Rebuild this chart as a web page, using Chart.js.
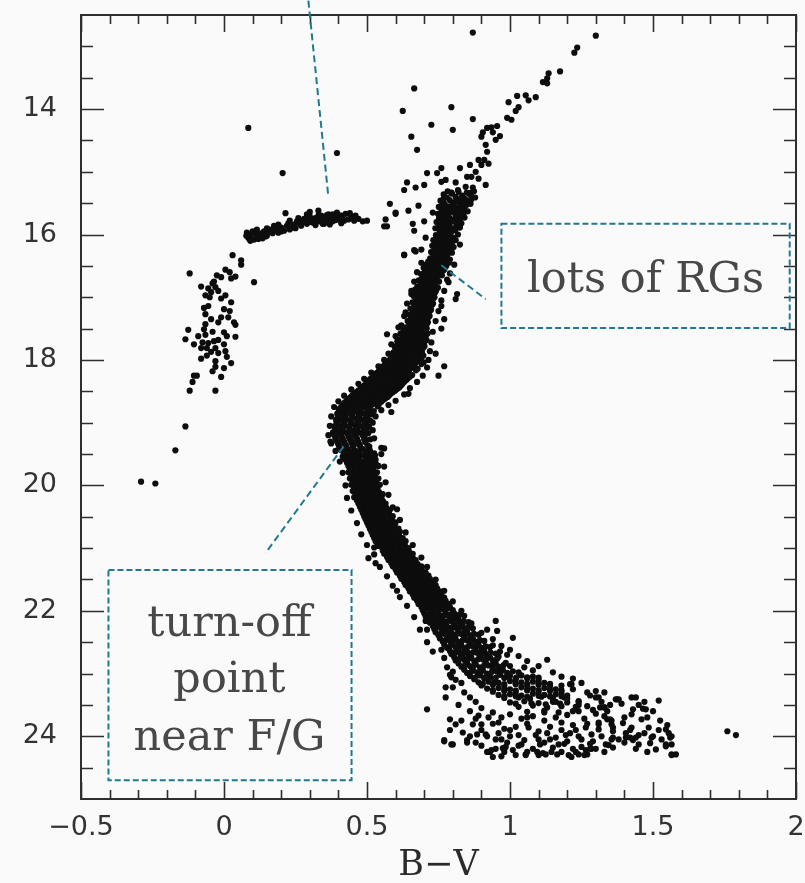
<!DOCTYPE html>
<html lang="en">
<head>
  <meta charset="UTF-8" />
  <title>Globular cluster colour-magnitude diagram</title>
  <style>
    body {
      margin: 0;
      background: #fafafa;
    }
    #cmd {
      display: block;
    }
  </style>
  <script src="https://cdn.jsdelivr.net/npm/chart.js"></script>
</head>
<body>
  <canvas id="cmd" width="805" height="883"></canvas>

  <script>
    // every star is [B-V, V]

    // blue end of the horizontal branch (the near-vertical plume) + a few stragglers
    const blueBranch = [
      [-0.12,16.62],[0.03,16.33],[0.06,16.41],[0.06,16.48],[0.005,16.56],[-0.025,16.65],[-0.01,16.68],
      [-0.035,16.75],[0.04,16.67],[0.025,16.7],[-0.08,16.83],[-0.055,16.86],[-0.03,16.84],[-0.02,16.9],
      [-0.045,16.92],[-0.065,16.97],[0.005,16.97],[-0.01,17.02],[0.025,17.08],[-0.055,17.14],[-0.07,17.17],
      [0.0,17.19],[-0.065,17.27],[-0.01,17.32],[0.015,17.32],[-0.02,17.4],[0.035,17.4],[0.04,17.44],
      [-0.065,17.43],[-0.07,17.51],[-0.125,17.52],[0.0,17.56],[-0.09,17.62],[-0.065,17.6],[0.01,17.62],
      [0.04,17.63],[-0.135,17.67],[-0.035,17.7],[-0.055,17.73],[-0.105,17.75],[-0.08,17.81],[-0.06,17.81],
      [-0.03,17.81],[0.0,17.75],[-0.045,17.87],[-0.02,17.89],[0.005,17.86],[-0.08,17.98],[-0.03,18.02],
      [0.025,18.05],[-0.03,18.11],[0.0,18.13],[-0.105,18.25],[-0.095,18.25],[-0.01,18.27],[-0.11,18.35],
      [-0.12,18.49],[-0.03,18.49],[-0.135,19.06],[-0.17,19.44],[-0.29,19.94],[-0.24,19.97],[0.105,16.76],
      [-0.04,16.78],[-0.05,17.0],[0.02,17.22],[-0.04,17.55],[-0.02,17.68],[-0.06,17.93],[0.01,17.95],
      [-0.04,18.18],[0.02,16.6],[-0.045,17.35],[-0.075,17.72]
    ];

    // horizontal branch proper
    const horizontalBranch = [
      [0.08,15.97],[0.085,16.05],[0.095,16.0],[0.105,16.08],[0.11,15.97],[0.115,16.03],[0.13,15.98],
      [0.135,16.06],[0.14,15.95],[0.15,16.02],[0.16,15.92],[0.17,15.98],[0.18,15.9],[0.19,15.97],
      [0.2,15.89],[0.21,15.94],[0.22,15.86],[0.23,15.92],[0.245,15.84],[0.25,15.9],[0.26,15.79],
      [0.27,15.86],[0.28,15.75],[0.29,15.83],[0.295,15.78],[0.3,15.71],[0.31,15.81],[0.315,15.75],
      [0.325,15.79],[0.33,15.7],[0.34,15.76],[0.345,15.83],[0.35,15.73],[0.36,15.78],[0.365,15.68],
      [0.37,15.75],[0.38,15.79],[0.385,15.71],[0.395,15.65],[0.4,15.76],[0.41,15.7],[0.415,15.75],
      [0.425,15.67],[0.435,15.76],[0.445,15.71],[0.455,15.78],[0.47,15.75],[0.485,15.79],[0.5,15.78],
      [0.09,16.08],[0.1,15.95],[0.12,16.07],[0.145,16.03],[0.17,15.94],[0.2,15.95],[0.24,15.89],
      [0.275,15.8],[0.3,15.8],[0.32,15.74],[0.34,15.7],[0.355,15.77],[0.37,15.72],[0.39,15.77],
      [0.405,15.73],[0.42,15.78],[0.36,15.69],[0.3,15.64],[0.255,15.79],[0.225,15.82],[0.175,15.86],
      [0.215,15.66],[0.33,15.62],[0.35,15.83],[0.38,15.68],[0.078,16.02],[0.092,16.1],[0.125,16.02],
      [0.155,15.96],[0.185,15.93],[0.265,15.83],[0.335,15.79],[0.375,15.78],[0.4,15.69],
      [0.29,15.68],[0.32,15.85],[0.37,15.84],[0.41,15.82],[0.44,15.66],[0.46,15.7],[0.26,15.74],
      [0.23,15.78],[0.19,15.84],[0.15,15.9],[0.115,15.92]
    ];

    // bright giants above V = 15.3
    const upperGiants = [
      [0.87,12.78],[1.3,12.83],[1.235,13.02],[1.225,13.1],[1.175,13.4],[1.135,13.43],[1.13,13.51],
      [1.115,13.57],[1.13,13.59],[1.09,13.81],[1.055,13.78],[1.025,13.79],[1.065,13.86],[0.995,13.89],
      [1.03,13.97],[1.02,14.03],[0.99,14.14],[1.005,14.17],[0.955,14.27],[0.935,14.29],[0.92,14.3],
      [0.905,14.37],[0.94,14.37],[0.965,14.43],[0.9,14.44],[0.95,14.49],[0.915,14.57],[0.92,14.68],
      [0.89,14.81],[0.91,14.81],[0.925,14.87],[0.9,14.89],[0.86,14.89],[0.825,14.94],[0.88,15.0],
      [0.865,15.08],[0.85,15.08],[0.89,15.11],[0.915,15.21],[0.76,14.94],[0.745,15.02],[0.71,15.02],
      [0.76,15.16],[0.775,15.13],[0.81,15.17],[0.845,15.24],[0.87,15.25],[0.82,15.32],[0.795,15.33],
      [0.865,15.33],
      [0.665,13.67],[0.625,14.03],[0.795,13.97],[0.87,14.16],[0.725,14.25],[0.8,14.33],[0.655,14.44],
      [0.675,14.65],[0.64,15.17],[0.63,15.29],[0.67,15.25],[0.7,15.21],[0.58,15.51],[0.6,15.67],
      [0.645,15.62],[0.68,15.54],[0.73,15.65],[0.66,15.83],[0.665,15.94],[0.7,15.79],[0.705,16.05],
      [0.665,16.25],[0.69,16.24],[0.63,16.33],[0.825,15.79],[0.835,15.65],[0.825,16.16],
      [0.565,15.76],[0.57,15.87],[0.6,15.65],[0.56,15.87]
    ];

    // red giant branch and subgiants down to the turn-off
    const giantBranch = [
      [0.782,15.31],[0.818,15.29],[0.849,15.33],[0.874,15.31],[0.768,15.36],[0.797,15.35],[0.833,15.38],[0.861,15.36],
      [0.779,15.41],[0.81,15.4],[0.842,15.43],[0.878,15.41],[0.757,15.46],[0.789,15.45],[0.821,15.48],[0.853,15.46],
      [0.771,15.51],[0.801,15.5],[0.829,15.53],[0.862,15.51],[0.751,15.56],[0.783,15.55],[0.812,15.57],[0.843,15.55],
      [0.764,15.61],[0.796,15.62],[0.826,15.6],[0.852,15.63],[0.772,15.66],[0.803,15.65],[0.821,15.68],[0.748,15.67],
      [0.753,15.71],[0.786,15.72],[0.811,15.7],[0.841,15.73],[0.764,15.76],[0.792,15.75],[0.822,15.77],
      [0.743,15.8],[0.776,15.81],[0.801,15.79],[0.83,15.82],[0.758,15.85],[0.789,15.86],[0.816,15.84],
      [0.739,15.9],[0.769,15.89],[0.798,15.91],[0.825,15.89],[0.754,15.94],[0.781,15.95],[0.809,15.93],
      [0.762,15.99],[0.791,15.98],[0.818,16.0],[0.741,16.01],[0.748,16.04],[0.772,16.03],[0.801,16.05],
      [0.732,16.09],[0.758,16.08],[0.784,16.1],[0.81,16.09],[0.745,16.14],[0.771,16.15],[0.797,16.13],
      [0.728,16.18],[0.752,16.19],[0.779,16.18],[0.803,16.2],[0.737,16.23],[0.762,16.24],[0.788,16.22],
      [0.724,16.28],[0.749,16.29],[0.773,16.27],[0.797,16.29],[0.733,16.33],[0.757,16.34],[0.781,16.32],
      [0.721,16.38],[0.744,16.39],[0.768,16.37],[0.79,16.4],
      [0.714,16.43],[0.739,16.44],[0.763,16.42],[0.786,16.45],[0.706,16.48],[0.731,16.49],[0.752,16.47],[0.777,16.5],
      [0.698,16.53],[0.722,16.54],[0.747,16.52],[0.771,16.55],[0.709,16.58],[0.733,16.59],[0.757,16.57],
      [0.689,16.63],[0.713,16.64],[0.736,16.62],[0.762,16.65],[0.699,16.68],[0.722,16.69],[0.746,16.67],
      [0.681,16.73],[0.704,16.74],[0.728,16.72],[0.752,16.75],[0.692,16.78],[0.716,16.79],[0.739,16.77],
      [0.676,16.83],[0.699,16.84],[0.723,16.82],[0.748,16.85],[0.668,16.88],[0.691,16.89],[0.714,16.87],[0.741,16.9],
      [0.681,16.93],[0.703,16.94],[0.727,16.92],[0.663,16.98],[0.687,16.99],[0.711,16.97],[0.736,17.0],
      [0.674,17.03],[0.697,17.04],[0.721,17.02],[0.659,17.08],[0.683,17.09],[0.707,17.07],[0.731,17.1],
      [0.668,17.13],[0.692,17.14],[0.716,17.12],[0.652,17.18],[0.677,17.19],[0.702,17.17],[0.724,17.2],
      [0.663,17.23],[0.687,17.24],[0.711,17.22],[0.648,17.28],[0.672,17.29],[0.697,17.27],[0.719,17.3],
      [0.657,17.33],[0.682,17.34],[0.706,17.32],[0.642,17.38],[0.667,17.39],[0.691,17.37],[0.713,17.4],
      [0.653,17.43],[0.677,17.44],[0.701,17.42],[0.636,17.48],[0.661,17.49],[0.686,17.47],[0.709,17.5],
      [0.627,17.53],[0.651,17.54],[0.676,17.52],[0.699,17.55],[0.617,17.58],[0.642,17.59],[0.668,17.57],[0.692,17.6],[0.712,17.58],
      [0.628,17.63],[0.653,17.64],[0.678,17.62],[0.703,17.65],[0.611,17.68],[0.636,17.69],[0.661,17.67],[0.686,17.7],[0.708,17.68],
      [0.619,17.73],[0.644,17.74],[0.669,17.72],[0.693,17.75],[0.602,17.78],[0.627,17.79],[0.652,17.77],[0.677,17.8],[0.701,17.78],
      [0.609,17.83],[0.634,17.84],[0.658,17.82],[0.683,17.85],[0.593,17.88],[0.618,17.89],[0.643,17.87],[0.667,17.9],[0.692,17.88],
      [0.598,17.93],[0.623,17.94],[0.648,17.92],[0.673,17.95],[0.697,17.93],[0.583,17.98],[0.607,17.99],[0.632,17.97],[0.657,18.0],[0.681,17.98],
      [0.571,18.03],[0.596,18.04],[0.622,18.02],[0.647,18.05],[0.672,18.03],[0.698,18.04],
      [0.562,18.08],[0.587,18.09],[0.612,18.07],[0.638,18.1],[0.663,18.08],
      [0.551,18.13],[0.577,18.14],[0.602,18.12],[0.628,18.15],[0.653,18.13],[0.677,18.14],
      [0.541,18.18],[0.566,18.19],[0.592,18.17],[0.617,18.2],[0.643,18.18],
      [0.529,18.23],[0.555,18.24],[0.581,18.22],[0.607,18.25],[0.633,18.23],[0.658,18.24],
      [0.517,18.28],[0.543,18.29],[0.568,18.27],[0.594,18.3],[0.619,18.28],[0.643,18.29],
      [0.506,18.33],[0.532,18.34],[0.557,18.32],[0.583,18.35],[0.608,18.33],[0.632,18.34],
      [0.497,18.38],[0.521,18.39],[0.547,18.37],[0.572,18.4],[0.598,18.38],[0.622,18.39],
      [0.486,18.43],[0.511,18.44],[0.537,18.42],[0.562,18.45],[0.588,18.43],[0.613,18.44],
      [0.472,18.48],[0.497,18.49],[0.523,18.47],[0.548,18.5],[0.573,18.48],[0.598,18.49],
      [0.458,18.53],[0.483,18.54],[0.508,18.52],[0.533,18.55],[0.558,18.53],[0.583,18.54],
      [0.446,18.58],[0.471,18.59],[0.496,18.57],[0.522,18.6],[0.547,18.58],[0.572,18.59],
      [0.433,18.63],[0.458,18.64],[0.483,18.62],[0.508,18.65],[0.533,18.63],[0.556,18.64],
      [0.422,18.68],[0.447,18.69],[0.472,18.67],[0.497,18.7],[0.522,18.68],
      [0.413,18.73],[0.437,18.74],[0.462,18.72],[0.487,18.75],[0.512,18.73],[0.537,18.74],
      [0.404,18.78],[0.428,18.79],[0.453,18.77],[0.478,18.8],[0.503,18.78],
      [0.407,18.83],[0.432,18.84],[0.457,18.82],[0.481,18.85],[0.507,18.83],
      [0.398,18.88],[0.422,18.89],[0.447,18.87],[0.472,18.9],[0.497,18.88],
      [0.403,18.93],[0.427,18.94],[0.452,18.92],[0.477,18.95],[0.502,18.93],
      [0.393,18.98],[0.417,18.99],[0.442,18.97],[0.467,19.0],[0.492,18.98],
      [0.398,19.03],[0.423,19.04],[0.448,19.02],[0.473,19.05],[0.498,19.03],
      [0.388,19.08],[0.412,19.09],[0.437,19.07],[0.462,19.1],[0.487,19.08],
      [0.394,19.13],[0.418,19.14],[0.443,19.12],[0.468,19.15],[0.497,19.13],
      [0.384,19.18],[0.408,19.19],[0.433,19.17],[0.458,19.2],[0.483,19.18],
      [0.389,19.23],[0.413,19.24],[0.438,19.22],[0.463,19.25],[0.492,19.23],
      [0.394,19.28],[0.418,19.29],[0.443,19.27],[0.468,19.3],[0.497,19.28],
      [0.399,19.33],[0.423,19.34],[0.448,19.32],[0.473,19.35],
      [0.403,19.38],[0.428,19.39],[0.453,19.37],[0.478,19.4],[0.508,19.38],
      // ragged edges of the branch
      [0.69,16.45],[0.675,16.6],[0.665,16.75],[0.655,16.95],[0.64,17.1],[0.63,17.3],[0.62,17.45],
      [0.6,17.62],[0.585,17.75],[0.575,17.9],[0.56,18.0],[0.54,18.1],[0.515,18.2],[0.49,18.3],
      [0.47,18.38],[0.445,18.47],[0.42,18.57],[0.4,18.66],[0.385,18.75],[0.375,18.9],[0.37,19.05],
      [0.365,19.2],[0.372,19.3],
      [0.805,16.48],[0.79,16.62],[0.78,16.72],[0.77,16.9],[0.76,17.05],[0.75,17.22],[0.74,17.38],
      [0.73,17.55],[0.725,17.72],[0.72,17.86],[0.715,18.0],[0.71,18.12],[0.695,18.25],[0.675,18.35],
      [0.65,18.45],[0.63,18.55],[0.6,18.65],[0.575,18.72],[0.55,18.8],[0.53,18.9],[0.52,19.0],
      [0.52,19.12],[0.525,19.25]
    ];

    // the crowded core of the giant branch, between the rows above
    const giantBranchCore = [
      [0.795,15.335],[0.856,15.345],[0.768,15.43],[0.829,15.425],[0.864,15.445],[0.806,15.485],[0.838,15.47],
      [0.763,15.535],[0.797,15.54],[0.848,15.525],[0.779,15.585],[0.81,15.6],[0.838,15.59],
      [0.76,15.64],[0.787,15.635],[0.838,15.655],[0.77,15.69],[0.826,15.71],[0.752,15.745],[0.779,15.735],[0.808,15.76],
      [0.762,15.825],[0.787,15.815],[0.816,15.805],[0.752,15.87],[0.784,15.875],[0.812,15.865],[0.768,15.96],[0.796,15.95],
      [0.756,16.02],[0.785,16.025],[0.744,16.065],[0.771,16.085],[0.795,16.07],[0.758,16.125],[0.784,16.135],
      [0.739,16.165],[0.765,16.17],[0.791,16.175],[0.75,16.215],[0.774,16.205],[0.736,16.265],[0.761,16.255],[0.786,16.26],
      [0.745,16.31],[0.77,16.305],[0.733,16.36],[0.756,16.365],[0.779,16.355],[0.728,16.41],[0.753,16.415],[0.776,16.405],
      [0.72,16.465],[0.744,16.455],[0.767,16.47],[0.711,16.515],[0.737,16.505],[0.76,16.52],[0.72,16.565],[0.744,16.555],[0.768,16.57],
      [0.701,16.605],[0.724,16.615],[0.748,16.6],[0.71,16.655],[0.734,16.66],[0.757,16.645],[0.692,16.705],[0.715,16.71],[0.739,16.695],
      [0.703,16.755],[0.727,16.76],[0.75,16.745],[0.687,16.805],[0.711,16.81],[0.735,16.8],[0.68,16.855],[0.706,16.86],[0.731,16.85],
      [0.692,16.905],[0.716,16.915],[0.738,16.925],[0.674,16.955],[0.699,16.96],[0.722,16.965],[0.686,17.005],[0.71,17.015],[0.731,17.025],
      [0.67,17.055],[0.694,17.06],[0.717,17.065],[0.68,17.105],[0.704,17.115],[0.727,17.125],[0.664,17.155],[0.688,17.16],[0.711,17.165],
      [0.674,17.205],[0.698,17.215],[0.719,17.225],[0.659,17.255],[0.683,17.26],[0.707,17.265],[0.668,17.305],[0.693,17.315],[0.714,17.325],
      [0.653,17.355],[0.678,17.36],[0.701,17.365],[0.664,17.405],[0.688,17.415],[0.709,17.425],[0.647,17.455],[0.671,17.46],[0.695,17.465],
      [0.643,17.505],[0.669,17.515],[0.692,17.52],[0.632,17.555],[0.662,17.56],[0.688,17.565],
      [0.63,17.605],[0.656,17.61],[0.683,17.615],[0.707,17.6],[0.622,17.655],[0.646,17.66],[0.671,17.645],[0.696,17.655],
      [0.606,17.705],[0.631,17.715],[0.655,17.72],[0.68,17.71],[0.702,17.705],[0.612,17.755],[0.637,17.76],[0.661,17.765],[0.686,17.755],
      [0.598,17.805],[0.622,17.81],[0.646,17.815],[0.671,17.805],[0.696,17.81],[0.603,17.855],[0.628,17.86],[0.652,17.865],[0.677,17.855],
      [0.589,17.905],[0.612,17.91],[0.638,17.915],[0.662,17.905],[0.686,17.91],[0.592,17.955],[0.617,17.96],[0.642,17.965],[0.667,17.955],[0.69,17.96],
      [0.578,18.005],[0.603,18.01],[0.628,18.015],[0.652,18.005],[0.677,18.01],
      [0.567,18.055],[0.592,18.06],[0.617,18.065],[0.643,18.055],[0.668,18.06],[0.69,18.065],
      [0.556,18.105],[0.582,18.11],[0.607,18.115],[0.633,18.105],[0.658,18.11],
      [0.545,18.155],[0.571,18.16],[0.597,18.165],[0.622,18.155],[0.648,18.16],[0.671,18.165],
      [0.535,18.205],[0.561,18.21],[0.586,18.215],[0.612,18.205],[0.638,18.21],
      [0.523,18.255],[0.549,18.26],[0.575,18.265],[0.6,18.255],[0.626,18.26],[0.651,18.265],
      [0.511,18.305],[0.537,18.31],[0.562,18.315],[0.588,18.305],[0.613,18.31],[0.638,18.315],
      [0.501,18.355],[0.527,18.36],[0.552,18.365],[0.578,18.355],[0.603,18.36],[0.627,18.365],
      [0.491,18.405],[0.516,18.41],[0.542,18.415],[0.567,18.405],[0.593,18.41],[0.617,18.415],
      [0.479,18.455],[0.504,18.46],[0.53,18.465],[0.555,18.455],[0.581,18.46],[0.605,18.465],
      [0.465,18.505],[0.49,18.51],[0.516,18.515],[0.541,18.505],[0.566,18.51],[0.59,18.515],
      [0.452,18.555],[0.477,18.56],[0.502,18.565],[0.527,18.555],[0.552,18.56],[0.577,18.565],
      [0.44,18.605],[0.465,18.61],[0.49,18.615],[0.515,18.605],[0.54,18.61],[0.564,18.615],
      [0.428,18.655],[0.453,18.66],[0.478,18.665],[0.503,18.655],[0.528,18.66],[0.55,18.665],
      [0.418,18.705],[0.443,18.71],[0.468,18.715],[0.493,18.705],[0.518,18.71],[0.541,18.715],
      [0.409,18.755],[0.433,18.76],[0.458,18.765],[0.483,18.755],[0.508,18.76],
      [0.402,18.805],[0.427,18.81],[0.451,18.815],[0.476,18.805],[0.501,18.81],[0.524,18.815],
      [0.396,18.855],[0.42,18.86],[0.445,18.865],[0.47,18.855],[0.494,18.86],[0.516,18.865],
      [0.401,18.905],[0.425,18.91],[0.449,18.915],[0.474,18.905],[0.499,18.91],
      [0.392,18.955],[0.416,18.96],[0.44,18.965],[0.465,18.955],[0.49,18.96],[0.511,18.965],
      [0.396,19.005],[0.42,19.01],[0.445,19.015],[0.47,19.005],[0.494,19.01],
      [0.387,19.055],[0.41,19.06],[0.435,19.065],[0.46,19.055],[0.485,19.06],[0.507,19.065],
      [0.391,19.105],[0.415,19.11],[0.44,19.115],[0.465,19.105],[0.49,19.11],
      [0.381,19.155],[0.404,19.16],[0.429,19.165],[0.454,19.155],[0.479,19.16],[0.505,19.165],
      [0.386,19.205],[0.41,19.21],[0.435,19.215],[0.46,19.205],[0.486,19.21],
      [0.391,19.255],[0.415,19.26],[0.44,19.265],[0.465,19.255],[0.49,19.26],[0.512,19.265],
      [0.396,19.305],[0.42,19.31],[0.445,19.315],[0.47,19.305],[0.494,19.31],
      [0.401,19.355],[0.426,19.36],[0.45,19.365],[0.475,19.355],[0.502,19.36]
    ];

    // main sequence from the turn-off down to V = 22
    const mainSequence = [
      [0.41,19.44],[0.435,19.43],[0.46,19.45],[0.485,19.42],[0.51,19.44],
      [0.42,19.49],[0.445,19.48],[0.47,19.5],[0.495,19.47],[0.525,19.49],
      [0.415,19.54],[0.44,19.53],[0.465,19.55],[0.49,19.52],[0.515,19.54],
      [0.425,19.59],[0.45,19.58],[0.475,19.6],[0.5,19.57],[0.53,19.59],
      [0.43,19.64],[0.455,19.63],[0.48,19.65],[0.505,19.62],
      [0.435,19.69],[0.46,19.68],[0.485,19.7],[0.51,19.67],[0.54,19.69],
      [0.44,19.74],[0.465,19.73],[0.49,19.75],[0.515,19.72],
      [0.435,19.79],[0.46,19.78],[0.485,19.8],[0.51,19.77],[0.535,19.79],
      [0.445,19.84],[0.47,19.83],[0.495,19.85],[0.52,19.82],
      [0.44,19.89],[0.465,19.88],[0.49,19.9],[0.515,19.87],[0.54,19.89],
      [0.45,19.94],[0.475,19.93],[0.5,19.95],[0.525,19.92],
      [0.445,19.99],[0.47,19.98],[0.495,20.0],[0.52,19.97],[0.545,19.99],
      [0.455,20.04],[0.48,20.03],[0.505,20.05],[0.53,20.02],
      [0.45,20.09],[0.475,20.08],[0.5,20.1],[0.525,20.07],
      [0.46,20.14],[0.485,20.13],[0.51,20.15],[0.535,20.12],[0.555,20.14],
      [0.455,20.19],[0.48,20.18],[0.505,20.2],[0.53,20.17],
      [0.465,20.24],[0.49,20.23],[0.515,20.25],[0.54,20.22],
      [0.47,20.29],[0.495,20.28],[0.52,20.3],[0.545,20.27],[0.565,20.29],
      [0.475,20.34],[0.5,20.33],[0.525,20.35],[0.55,20.32],
      [0.48,20.39],[0.505,20.38],[0.53,20.4],[0.555,20.37],[0.58,20.39],
      [0.485,20.44],[0.51,20.43],[0.535,20.45],[0.56,20.42],
      [0.49,20.49],[0.515,20.48],[0.54,20.5],[0.565,20.47],[0.59,20.49],
      [0.495,20.54],[0.52,20.53],[0.545,20.55],[0.57,20.52],
      [0.5,20.59],[0.525,20.58],[0.55,20.6],[0.575,20.57],[0.6,20.59],
      [0.505,20.64],[0.53,20.63],[0.555,20.65],[0.58,20.62],
      [0.51,20.69],[0.535,20.68],[0.56,20.7],[0.585,20.67],[0.61,20.69],
      [0.515,20.74],[0.54,20.73],[0.565,20.75],[0.59,20.72],[0.615,20.74],
      [0.52,20.79],[0.545,20.78],[0.57,20.8],[0.595,20.77],
      [0.525,20.84],[0.55,20.83],[0.575,20.85],[0.6,20.82],[0.625,20.84],
      [0.53,20.89],[0.555,20.88],[0.58,20.9],[0.605,20.87],[0.635,20.89],
      [0.54,20.94],[0.565,20.93],[0.59,20.95],[0.615,20.92],
      [0.525,20.99],[0.55,20.98],[0.575,21.0],[0.6,20.97],[0.625,20.99],[0.645,21.0],
      [0.555,21.04],[0.58,21.03],[0.605,21.05],[0.63,21.02],
      [0.56,21.09],[0.585,21.08],[0.61,21.1],[0.635,21.07],[0.66,21.09],
      [0.57,21.14],[0.595,21.13],[0.62,21.15],[0.645,21.12],
      [0.575,21.19],[0.6,21.18],[0.625,21.2],[0.65,21.17],[0.67,21.19],
      [0.585,21.24],[0.61,21.23],[0.635,21.25],[0.66,21.22],
      [0.59,21.29],[0.615,21.28],[0.64,21.3],[0.665,21.27],[0.69,21.29],
      [0.6,21.34],[0.625,21.33],[0.65,21.35],[0.675,21.32],
      [0.605,21.39],[0.63,21.38],[0.655,21.4],[0.68,21.37],[0.705,21.39],
      [0.615,21.44],[0.64,21.43],[0.665,21.45],[0.69,21.42],[0.715,21.44],
      [0.62,21.49],[0.645,21.48],[0.67,21.5],[0.695,21.47],[0.72,21.49],
      [0.63,21.54],[0.655,21.53],[0.68,21.55],[0.705,21.52],[0.73,21.54],
      [0.635,21.59],[0.66,21.58],[0.685,21.6],[0.71,21.57],[0.74,21.59],
      [0.645,21.64],[0.67,21.63],[0.695,21.65],[0.72,21.62],[0.745,21.64],
      [0.65,21.69],[0.675,21.68],[0.7,21.7],[0.725,21.67],[0.755,21.69],
      [0.66,21.74],[0.685,21.73],[0.71,21.75],[0.735,21.72],[0.76,21.74],
      [0.665,21.79],[0.69,21.78],[0.715,21.8],[0.74,21.77],[0.77,21.79],
      [0.675,21.84],[0.7,21.83],[0.725,21.85],[0.75,21.82],[0.775,21.84],
      [0.68,21.89],[0.705,21.88],[0.73,21.9],[0.755,21.87],[0.785,21.89],
      [0.69,21.94],[0.715,21.93],[0.74,21.95],[0.765,21.92],[0.79,21.94],
      [0.695,21.99],[0.72,21.98],[0.745,22.0],[0.77,21.97],[0.8,21.99],
      // ragged edges of the sequence
      [0.39,19.45],[0.405,19.62],[0.415,19.8],[0.425,20.0],[0.43,20.2],[0.445,20.4],[0.465,20.6],
      [0.48,20.78],[0.5,20.95],[0.525,21.1],[0.545,21.3],[0.57,21.45],[0.59,21.6],[0.615,21.78],
      [0.64,21.92],[0.665,22.1],[0.685,22.3],[0.71,22.5],[0.73,22.65],
      [0.55,19.5],[0.56,19.7],[0.565,19.95],[0.575,20.15],[0.59,20.35],[0.615,20.55],[0.635,20.75],
      [0.66,20.95],[0.69,21.15],[0.71,21.3],[0.74,21.5],[0.77,21.68],[0.8,21.85],[0.83,22.0],
      [0.865,22.2],[0.9,22.35],[0.94,22.55],[0.965,22.65]
    ];

    // the crowded core of the upper main sequence
    const mainSequenceCore = [
      [0.422,19.465],[0.447,19.46],[0.472,19.47],[0.498,19.455],[0.428,19.515],[0.453,19.51],[0.478,19.52],[0.503,19.505],[0.528,19.52],
      [0.421,19.565],[0.446,19.56],[0.471,19.57],[0.496,19.555],[0.52,19.565],[0.437,19.615],[0.462,19.61],[0.487,19.62],[0.512,19.605],
      [0.44,19.665],[0.466,19.66],[0.491,19.67],[0.517,19.655],[0.532,19.665],[0.447,19.715],[0.472,19.71],[0.497,19.72],[0.524,19.705],
      [0.447,19.765],[0.472,19.76],[0.497,19.77],[0.522,19.755],[0.452,19.815],[0.478,19.81],[0.503,19.82],[0.528,19.805],
      [0.452,19.865],[0.477,19.86],[0.502,19.87],[0.527,19.855],[0.457,19.915],[0.483,19.91],[0.508,19.92],[0.533,19.905],
      [0.457,19.965],[0.482,19.96],[0.507,19.97],[0.532,19.955],[0.462,20.015],[0.487,20.01],[0.512,20.02],[0.537,20.005],
      [0.462,20.065],[0.487,20.06],[0.512,20.07],[0.537,20.055],[0.467,20.115],[0.492,20.11],[0.517,20.12],[0.542,20.105],
      [0.467,20.165],[0.492,20.16],[0.517,20.17],[0.543,20.155],[0.477,20.215],[0.502,20.21],[0.527,20.22],[0.551,20.205],
      [0.482,20.265],[0.507,20.26],[0.532,20.27],[0.556,20.255],[0.487,20.315],[0.512,20.31],[0.537,20.32],[0.561,20.305],
      [0.492,20.365],[0.517,20.36],[0.542,20.37],[0.567,20.355],[0.497,20.415],[0.522,20.41],[0.547,20.42],[0.572,20.405],
      [0.502,20.465],[0.527,20.46],[0.552,20.47],[0.577,20.455],[0.507,20.515],[0.532,20.51],[0.557,20.52],[0.582,20.505],
      [0.512,20.565],[0.537,20.56],[0.562,20.57],[0.587,20.555],[0.517,20.615],[0.542,20.61],[0.567,20.62],[0.592,20.605],
      [0.522,20.665],[0.547,20.66],[0.572,20.67],[0.597,20.655],[0.527,20.715],[0.552,20.71],[0.577,20.72],[0.602,20.705],
      [0.532,20.765],[0.557,20.76],[0.582,20.77],[0.607,20.755],[0.537,20.815],[0.562,20.81],[0.587,20.82],[0.612,20.805],
      [0.542,20.865],[0.567,20.86],[0.592,20.87],[0.617,20.855],[0.552,20.915],[0.577,20.91],[0.602,20.92],[0.627,20.905],
      [0.537,20.965],[0.562,20.96],[0.587,20.97],[0.612,20.955],[0.633,20.965],[0.567,21.015],[0.592,21.01],[0.617,21.02],[0.64,21.005],
      [0.572,21.065],[0.597,21.06],[0.622,21.07],[0.647,21.055],[0.582,21.115],[0.607,21.11],[0.632,21.12],[0.656,21.105],
      [0.587,21.165],[0.612,21.16],[0.637,21.17],[0.66,21.155],[0.597,21.215],[0.622,21.21],[0.647,21.22],[0.669,21.205],
      [0.602,21.265],[0.627,21.26],[0.652,21.27],[0.677,21.255],[0.612,21.315],[0.637,21.31],[0.662,21.32],[0.686,21.305],
      [0.617,21.365],[0.642,21.36],[0.667,21.37],[0.692,21.355],[0.627,21.415],[0.652,21.41],[0.677,21.42],[0.702,21.405],
      [0.632,21.465],[0.657,21.46],[0.682,21.47],[0.707,21.455],[0.642,21.515],[0.667,21.51],[0.692,21.52],[0.717,21.505],
      [0.647,21.565],[0.672,21.56],[0.697,21.57],[0.722,21.555],[0.657,21.615],[0.682,21.61],[0.707,21.62],[0.732,21.605],
      [0.662,21.665],[0.687,21.66],[0.712,21.67],[0.737,21.655],[0.672,21.715],[0.697,21.71],[0.722,21.72],[0.747,21.705],
      [0.677,21.765],[0.702,21.76],[0.727,21.77],[0.753,21.755],[0.687,21.815],[0.712,21.81],[0.737,21.82],[0.762,21.805],
      [0.692,21.865],[0.717,21.86],[0.742,21.87],[0.768,21.855],[0.702,21.915],[0.727,21.91],[0.752,21.92],[0.777,21.905],
      [0.707,21.965],[0.732,21.96],[0.757,21.97],[0.783,21.955]
    ];

    // faint main sequence, V > 22, where it fans out
    const lowerSequence = [
      [0.7,22.04],[0.725,22.03],[0.75,22.05],[0.775,22.02],[0.805,22.04],
      [0.705,22.09],[0.73,22.08],[0.755,22.1],[0.78,22.07],[0.81,22.09],[0.84,22.08],
      [0.715,22.14],[0.74,22.13],[0.765,22.15],[0.79,22.12],[0.82,22.14],
      [0.72,22.19],[0.745,22.18],[0.77,22.2],[0.795,22.17],[0.825,22.19],[0.855,22.18],
      [0.73,22.24],[0.755,22.23],[0.78,22.25],[0.805,22.22],[0.835,22.24],
      [0.735,22.29],[0.76,22.28],[0.785,22.3],[0.81,22.27],[0.84,22.29],[0.87,22.28],
      [0.74,22.34],[0.77,22.33],[0.795,22.35],[0.82,22.32],[0.85,22.34],
      [0.75,22.39],[0.775,22.38],[0.8,22.4],[0.83,22.37],[0.86,22.39],[0.89,22.38],
      [0.755,22.44],[0.785,22.43],[0.81,22.45],[0.84,22.42],[0.87,22.44],
      [0.765,22.49],[0.79,22.48],[0.82,22.5],[0.85,22.47],[0.88,22.49],[0.91,22.48],
      [0.77,22.54],[0.8,22.53],[0.83,22.55],[0.86,22.52],[0.89,22.54],
      [0.78,22.59],[0.81,22.58],[0.84,22.6],[0.87,22.57],[0.9,22.59],[0.93,22.58],
      [0.79,22.64],[0.82,22.63],[0.85,22.65],[0.88,22.62],[0.91,22.64],
      [0.795,22.69],[0.825,22.68],[0.855,22.7],[0.885,22.67],[0.915,22.69],[0.95,22.68],
      [0.805,22.74],[0.835,22.73],[0.865,22.75],[0.895,22.72],[0.93,22.74],[0.96,22.73],
      [0.81,22.79],[0.84,22.78],[0.875,22.8],[0.905,22.77],[0.94,22.79],
      [0.82,22.84],[0.85,22.83],[0.88,22.85],[0.915,22.82],[0.95,22.84],[0.985,22.83],
      [0.83,22.89],[0.86,22.88],[0.895,22.9],[0.925,22.87],[0.96,22.89],[1.0,22.88],
      [0.84,22.94],[0.87,22.93],[0.905,22.95],[0.94,22.92],[0.975,22.94],
      [0.85,22.99],[0.885,22.98],[0.92,23.0],[0.955,22.97],[0.99,22.99],[1.03,22.98],
      [0.86,23.04],[0.895,23.03],[0.93,23.05],[0.965,23.02],[1.0,23.04],[1.04,23.03],[1.08,23.05],
      [0.875,23.09],[0.91,23.08],[0.945,23.1],[0.98,23.07],[1.02,23.09],[1.06,23.08],[1.1,23.1],
      [0.89,23.14],[0.925,23.13],[0.96,23.15],[1.0,23.12],[1.04,23.14],[1.08,23.13],[1.12,23.15],
      [0.9,23.19],[0.94,23.18],[0.98,23.2],[1.02,23.17],[1.06,23.19],[1.1,23.18],[1.14,23.2],[1.18,23.19],
      [0.92,23.24],[0.96,23.23],[1.0,23.25],[1.04,23.22],[1.08,23.24],[1.12,23.23],[1.16,23.25],
      [0.94,23.29],[0.98,23.28],[1.02,23.3],[1.06,23.27],[1.1,23.29],[1.14,23.28],[1.18,23.3],
      [0.96,23.34],[1.0,23.33],[1.04,23.35],[1.08,23.32],[1.12,23.34],[1.16,23.33],[1.2,23.35],
      [0.98,23.39],[1.03,23.38],[1.07,23.4],[1.11,23.37],[1.15,23.39],[1.19,23.38],
      [1.0,23.46],[1.05,23.44],[1.1,23.47],[1.15,23.45],[1.2,23.46],
      [1.03,23.53],[1.08,23.51],[1.13,23.54],[1.18,23.52],[1.23,23.53],
      [1.06,23.61],[1.12,23.59],[1.17,23.62],[1.22,23.6],
      // between the rows of the fan
      [0.712,22.065],[0.74,22.06],[0.766,22.07],[0.793,22.055],[0.823,22.065],
      [0.727,22.165],[0.752,22.16],[0.778,22.17],[0.806,22.155],[0.838,22.165],
      [0.742,22.265],[0.77,22.26],[0.796,22.27],[0.824,22.255],[0.855,22.265],
      [0.758,22.365],[0.787,22.36],[0.813,22.37],[0.843,22.355],[0.874,22.365],
      [0.775,22.465],[0.805,22.46],[0.834,22.47],[0.865,22.455],[0.895,22.465],
      [0.79,22.565],[0.822,22.56],[0.853,22.57],[0.884,22.555],[0.915,22.565],
      [0.807,22.665],[0.839,22.66],[0.869,22.67],[0.9,22.655],[0.932,22.665],
      [0.823,22.765],[0.856,22.76],[0.889,22.77],[0.921,22.755],[0.955,22.765],
      [0.843,22.865],[0.877,22.86],[0.91,22.87],[0.943,22.855],[0.978,22.865],
      [0.866,22.965],[0.9,22.96],[0.937,22.97],[0.972,22.955],[1.01,22.965],
      [0.878,23.065],[0.912,23.06],[0.95,23.07],[0.985,23.055],[1.022,23.065],[1.06,23.06],[1.1,23.065],
      [0.905,23.165],[0.942,23.16],[0.98,23.17],[1.02,23.155],[1.06,23.165],[1.1,23.16],[1.14,23.165],
      [0.94,23.265],[0.98,23.26],[1.02,23.27],[1.06,23.255],[1.1,23.265],[1.14,23.26],[1.18,23.265],
      [0.98,23.365],[1.02,23.36],[1.06,23.37],[1.1,23.355],[1.14,23.365],[1.18,23.36],
      [1.02,23.48],[1.075,23.475],[1.125,23.49],[1.175,23.48],
      [0.76,22.62],[0.77,22.75],[0.78,22.9],[0.8,22.97],[0.81,23.1],[0.83,23.15],[0.84,23.3],[0.86,23.38],
      [0.88,23.45],[0.79,23.02],[0.92,22.3],[0.94,22.45],[0.97,22.56],[1.0,22.62],[1.03,22.72],[1.06,22.8],
      [1.1,22.88],[1.08,22.95],[1.15,22.98],[1.18,23.05],[1.22,23.08],[0.99,22.7],[1.05,22.9],
      // scattered faint stars
      [0.95,22.16],[0.955,22.32],[1.01,22.43],[1.13,22.78],[1.215,23.17],[1.31,23.38],[1.33,23.54],
      [1.37,23.41],[0.71,23.57],[0.775,23.22],[0.775,23.38],[0.795,23.06],[0.8,23.22],[0.79,23.73],
      [0.81,23.81],[0.835,23.94],[0.77,24.08],[0.8,24.13],[0.85,24.1],[0.87,23.81],[0.885,23.97],
      [0.89,23.67],[0.9,23.81],[0.925,23.7],[0.915,23.97],[0.93,24.25],[0.95,24.2],[0.97,24.05],
      [0.985,24.17],[1.0,23.9],[1.01,24.22],[1.03,23.98],[1.055,24.29],[1.04,24.13],[1.065,23.86],
      [1.09,23.98],[1.095,24.25],[1.105,24.13],[1.125,24.29],[1.14,24.05],[1.145,24.25],[1.17,24.13],
      [1.195,23.98],[1.205,24.3],[1.23,24.25],[1.25,24.17],[1.27,24.29],[1.285,24.2],[1.23,23.9],
      [1.265,23.86],[1.285,23.97],[1.31,23.81],[1.35,23.73],[1.355,24.05],[1.335,24.13],
      [0.77,24.06],[0.795,24.13],[0.85,24.06],[0.92,24.25],[0.94,24.33],[0.935,24.22],[0.975,24.19],
      [1.055,24.3],[1.115,24.27],[1.165,24.29],[1.215,24.33],[1.24,24.29],[1.265,24.22],[1.28,24.2],
      [1.21,23.17],[1.24,23.44],[1.3,23.38],[1.375,23.41],[1.425,23.38],[1.44,23.38],[1.52,23.43],
      [1.475,23.57],[1.425,23.65],[1.355,23.75],[1.31,23.78],[1.405,24.02],[1.44,24.02],[1.345,24.14],
      [1.495,24.02],[1.51,24.21],[1.545,24.13],[1.565,24.29],[1.56,24.02],[1.525,23.75],
      [1.38,23.41],[1.33,23.54],[1.43,23.57],[1.465,23.56],[1.46,23.73],[1.34,23.73],[1.355,23.81],
      [1.36,23.86],[1.395,23.79],[1.425,23.86],[1.485,23.86],[1.545,23.89],[1.555,23.95],[1.565,24.0],
      [1.405,23.95],[1.42,24.02],[1.45,23.98],[1.5,24.0],[1.36,24.02],[1.38,24.05],[1.43,24.06],
      [1.45,24.13],[1.49,24.11],[1.545,24.16],[1.565,24.13],[1.58,24.29],[1.565,24.3],[1.31,23.89],
      [1.315,23.54],
      [0.82,23.5],[0.86,23.6],[0.9,23.55],[0.94,23.62],[0.97,23.7],[1.0,23.65],[1.04,23.72],
      [1.08,23.68],[1.12,23.75],[1.16,23.7],[1.2,23.66],[1.24,23.6],[1.27,23.52],[1.24,23.45],
      [1.28,23.35],[1.32,23.45],[1.26,23.72],[1.3,23.64],[1.34,23.6],[1.22,23.82],[1.18,23.9],
      [1.14,23.85],[1.1,23.92],[1.06,23.8],[1.02,23.85],[0.98,23.88],[0.94,23.8],[0.9,23.9],
      [0.86,24.0],[0.95,24.05],[1.0,24.0],[1.05,24.06],[1.12,24.1],[1.16,24.02],[1.2,24.08],
      [1.25,24.05],[1.28,24.12],[1.32,24.0],[1.3,24.2],[1.22,24.2],[1.18,24.25],[1.08,24.2],
      [1.03,24.15],[0.98,24.25],[0.9,24.15],[1.39,23.48],[1.36,23.92],[1.48,23.7],
      [1.52,23.9],[1.55,23.82],[1.47,23.45],[1.25,23.15],[1.22,23.25],[1.27,23.3],[1.2,23.4],
      [1.24,23.5],[1.16,23.45],[1.3,23.28],[1.33,23.3],
      [0.79,23.9],[0.83,23.75],[0.88,24.1],[0.92,24.0],[0.96,23.95],[0.99,24.1],[1.02,24.3],[1.06,24.25],
      [1.1,24.05],[1.13,23.95],[1.15,24.18],[1.19,24.12],[1.21,23.95],[1.24,24.0],[1.27,23.8],[1.29,24.08],
      [1.33,24.25],[1.36,24.18],[1.4,23.7],[1.42,23.9],[1.44,24.2],[1.47,23.95],[1.5,23.6],[1.53,24.05],
      [1.48,24.25],[1.4,24.1],[1.12,23.62],[1.06,23.7],[0.96,23.78],[0.88,23.72],[1.18,23.78],[1.26,24.3],
      [1.1,24.3],[0.97,24.32],[1.33,23.68],[1.29,23.58],[1.45,23.5],[1.35,23.5],
      [1.76,23.92],[1.79,23.98]
    ];

    // stars lying off the main sequences
    const fieldStars = [
      [0.085,14.3],[0.205,15.02],[0.395,14.7],
      [0.77,18.1],[0.75,18.25],[0.74,17.9],[0.76,17.5],[0.77,17.35],[0.81,17.03],[0.815,16.95],
      [0.76,17.14],[0.785,16.76],[0.63,16.32],[0.67,16.27],[0.655,16.9],[0.635,17.24],[0.61,17.48],
      [0.57,17.59],[0.55,18.11],[0.55,18.25],[0.53,18.38],[0.45,18.56],[0.42,18.83],[0.375,19.33],
      [0.56,19.41],[0.585,18.83],[0.645,18.54],[0.605,20.38],[0.505,21.16],[0.53,21.24],[0.55,19.4],
      [0.605,21.68],[0.705,22.16],[0.71,22.3]
    ];

    const xTickValues = [-0.5, 0, 0.5, 1, 1.5, 2];
    const yTickValues = [14, 16, 18, 20, 22, 24];
    const xMinorStep = 0.1;
    const yMinorStep = 0.5;

    // call-outs, placed in B-V / V units
    const callouts = [
      {
        box: [0.97, 15.83, 1.978, 17.49],
        leader: [0.76, 16.49, 0.915, 17.03],
        lines: ['lots of RGs'],
        textX: 1.474,
        textY: [16.92]
      },
      {
        box: [-0.404, 21.35, 0.446, 24.7],
        leader: [0.418, 19.38, 0.145, 21.08],
        lines: ['turn-off', 'point', 'near F/G'],
        textX: 0.019,
        textY: [22.4, 23.3, 24.22]
      },
      {
        leader: [0.295, 12.27, 0.365, 15.4],
        lines: []
      }
    ];

    const frameTicks = {
      id: 'frameTicks',
      afterDatasetsDraw(chart) {
        const { ctx, chartArea: a, scales: { x, y } } = chart;
        ctx.save();
        ctx.strokeStyle = '#2e2e2e';
        ctx.lineWidth = 2;
        ctx.strokeRect(a.left, a.top, a.right - a.left, a.bottom - a.top);

        ctx.lineWidth = 1.6;
        ctx.beginPath();
        for (let v = x.min; v <= x.max + 1e-9; v += xMinorStep) {
          const px = Math.round(x.getPixelForValue(v)) + 0.5;
          const major = xTickValues.some(t => Math.abs(t - v) < 1e-6);
          const len = major ? 17 : 9;
          ctx.moveTo(px, a.bottom); ctx.lineTo(px, a.bottom - len);
          ctx.moveTo(px, a.top); ctx.lineTo(px, a.top + len);
        }
        for (let v = 13; v <= 24.5 + 1e-9; v += yMinorStep) {
          const py = Math.round(y.getPixelForValue(v)) + 0.5;
          const major = yTickValues.includes(v);
          const len = major ? 23 : 12;
          ctx.moveTo(a.left, py); ctx.lineTo(a.left + len, py);
          ctx.moveTo(a.right, py); ctx.lineTo(a.right - len, py);
        }
        ctx.stroke();
        ctx.restore();
      }
    };

    const calloutPlugin = {
      id: 'callouts',
      afterDraw(chart) {
        const { ctx, scales: { x, y } } = chart;
        ctx.save();
        ctx.strokeStyle = '#1f7a8f';
        ctx.lineWidth = 2;
        callouts.forEach(c => {
          ctx.setLineDash([6, 3]);
          if (c.box) {
            const x0 = x.getPixelForValue(c.box[0]);
            const y0 = y.getPixelForValue(c.box[1]);
            const x1 = x.getPixelForValue(c.box[2]);
            const y1 = y.getPixelForValue(c.box[3]);
            ctx.strokeRect(x0, y0, x1 - x0, y1 - y0);
          }
          ctx.setLineDash([7, 4]);
          ctx.beginPath();
          ctx.moveTo(x.getPixelForValue(c.leader[0]), y.getPixelForValue(c.leader[1]));
          ctx.lineTo(x.getPixelForValue(c.leader[2]), y.getPixelForValue(c.leader[3]));
          ctx.stroke();

          ctx.fillStyle = '#484848';
          ctx.font = '43px "DejaVu Serif"';
          ctx.textAlign = 'center';
          ctx.textBaseline = 'alphabetic';
          c.lines.forEach((t, i) => {
            ctx.fillText(t, x.getPixelForValue(c.textX), y.getPixelForValue(c.textY[i]));
          });
        });
        ctx.restore();
      }
    };

    // stop the axes reserving room for half-labels and tick padding at their ends
    const noEndPadding = s => {
      s.paddingTop = 0;
      s.paddingBottom = 0;
      s.paddingLeft = 0;
      s.paddingRight = 0;
    };

    const toPoints = list => list.map(([bv, v]) => ({ x: bv, y: v }));
    const groups = [
      blueBranch, horizontalBranch, upperGiants, giantBranch, giantBranchCore,
      mainSequence, mainSequenceCore, lowerSequence, fieldStars
    ];

    const tickFont = { family: '"DejaVu Sans"', size: 27 };

    new Chart(document.getElementById('cmd').getContext('2d'), {
      type: 'scatter',
      data: {
        datasets: groups.map(g => ({
          data: toPoints(g),
          pointRadius: 3.1,
          pointBorderWidth: 0,
          pointBackgroundColor: '#0d0d0d'
        }))
      },
      options: {
        responsive: false,
        animation: false,
        events: [],
        layout: { padding: { top: 15, right: 9, left: 0, bottom: 0 } },
        plugins: {
          legend: { display: false },
          tooltip: { enabled: false }
        },
        scales: {
          x: {
            type: 'linear',
            min: -0.5,
            max: 2,
            grid: { display: false, drawTicks: false },
            border: { display: false },
            afterBuildTicks: s => { s.ticks = xTickValues.map(v => ({ value: v })); },
            afterFit: s => { s.height = 84; noEndPadding(s); },
            ticks: {
              color: '#333',
              font: tickFont,
              padding: 13,
              maxRotation: 0,
              callback: v => (v < 0 ? '\u2212' + Math.abs(v) : String(v))
            },
            title: {
              display: true,
              text: 'B\u2212V',
              color: '#2a2a2a',
              font: { family: '"DejaVu Serif"', size: 35, lineHeight: 1 },
              padding: { top: 0, bottom: 0 }
            }
          },
          y: {
            type: 'linear',
            reverse: true,
            min: 12.5,
            max: 25,
            grid: { display: false, drawTicks: false },
            border: { display: false },
            afterBuildTicks: s => { s.ticks = yTickValues.map(v => ({ value: v })); },
            afterFit: s => { s.width = 81; noEndPadding(s); },
            ticks: {
              color: '#333',
              font: tickFont,
              padding: 24
            }
          }
        }
      },
      plugins: [frameTicks, calloutPlugin]
    });
  </script>
</body>
</html>
